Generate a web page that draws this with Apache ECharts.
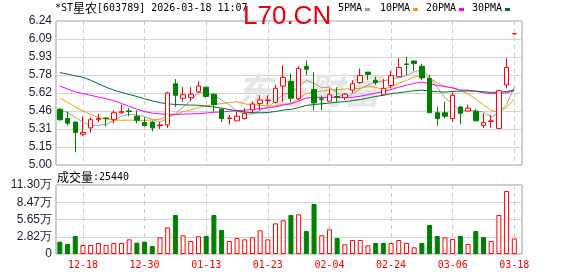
<!DOCTYPE html>
<html><head><meta charset="utf-8">
<script src="https://cdn.jsdelivr.net/npm/echarts@6/dist/echarts.min.js"></script>
<style>html,body{margin:0;padding:0;background:#fff}#c{width:578px;height:276px}</style>
</head><body><div id="c"></div>
<script>
// ---- data ----
const dateLabels = ['12-18','12-30','01-13','01-23','02-04','02-24','03-06','03-18'];
const priceTicks = ['5.00','5.15','5.31','5.46','5.62','5.78','5.93','6.09','6.24'];
const volTicks = ['0','2.82万','5.65万','8.47万','11.30万'];
// [open, close, low, high]
const ohlc = [
[5.48,5.39,5.38,5.49],[5.40,5.36,5.34,5.46],[5.37,5.28,5.11,5.37],[5.265,5.28,5.25,5.42],
[5.32,5.39,5.28,5.41],[5.39,5.40,5.37,5.44],[5.405,5.40,5.33,5.41],[5.39,5.45,5.36,5.47],
[5.45,5.46,5.44,5.52],[5.465,5.46,5.42,5.49],[5.42,5.385,5.36,5.47],[5.365,5.34,5.33,5.41],
[5.37,5.32,5.29,5.38],[5.34,5.345,5.31,5.37],[5.345,5.62,5.32,5.63],[5.70,5.60,5.50,5.74],
[5.575,5.605,5.545,5.67],[5.58,5.61,5.55,5.67],[5.63,5.68,5.62,5.72],[5.67,5.59,5.58,5.67],
[5.61,5.52,5.46,5.615],[5.48,5.40,5.37,5.49],[5.40,5.405,5.35,5.43],[5.38,5.42,5.38,5.46],
[5.40,5.445,5.39,5.49],[5.475,5.525,5.445,5.55],[5.53,5.56,5.47,5.60],[5.555,5.56,5.52,5.60],
[5.54,5.66,5.53,5.69],[5.68,5.755,5.545,5.86],[5.72,5.575,5.54,5.79],[5.57,5.83,5.56,5.85],
[5.85,5.825,5.775,5.90],[5.65,5.535,5.47,5.80],[5.57,5.565,5.47,5.60],[5.55,5.605,5.55,5.66],
[5.59,5.585,5.545,5.67],[5.58,5.61,5.56,5.62],[5.645,5.70,5.62,5.73],[5.71,5.77,5.70,5.83],
[5.80,5.78,5.73,5.80],[5.73,5.71,5.69,5.76],[5.605,5.66,5.60,5.74],[5.685,5.77,5.66,5.81],
[5.76,5.84,5.76,5.92],[5.87,5.865,5.775,5.93],[5.895,5.875,5.81,5.90],[5.85,5.75,5.73,5.87],
[5.745,5.45,5.45,5.775],[5.45,5.40,5.34,5.50],[5.45,5.42,5.40,5.545],[5.40,5.60,5.37,5.63],
[5.50,5.445,5.35,5.51],[5.465,5.49,5.465,5.52],[5.46,5.38,5.38,5.48],[5.34,5.365,5.32,5.445],
[5.375,5.38,5.32,5.43],[5.315,5.64,5.315,5.64],[5.69,5.84,5.66,5.92],[6.13,6.13,6.13,6.13]
];
const volumes = [
20150,16400,29500,14700,14700,18000,14700,18000,18000,24000,
18500,20150,13100,27300,43700,63900,30600,21300,29000,29500,
63900,39300,21300,26200,24000,27300,38800,24000,50200,55200,
63900,65000,37700,81900,30600,40400,26200,15900,22900,22900,
14200,18000,18000,18000,22900,18000,11000,18000,47500,29500,
27300,24600,29500,16400,37700,27800,21300,63900,103200,25440
];
const ma5 = [5.48,5.45,5.41,5.37,5.34,5.342,5.35,5.384,5.42,5.435,5.431,5.418,5.392,5.369,5.402,5.445,5.498,5.556,5.624,5.618,5.6,5.558,5.519,5.467,5.438,5.439,5.47,5.501,5.549,5.61,5.621,5.675,5.729,5.704,5.665,5.67,5.622,5.579,5.612,5.654,5.689,5.714,5.724,5.738,5.752,5.769,5.802,5.82,5.756,5.668,5.579,5.524,5.463,5.471,5.467,5.456,5.412,5.451,5.521,5.671];
const ma10 = [5.575,5.54,5.50,5.465,5.435,5.41,5.395,5.387,5.385,5.386,5.386,5.384,5.388,5.394,5.417,5.437,5.459,5.474,5.496,5.509,5.523,5.529,5.537,5.545,5.527,5.518,5.514,5.51,5.508,5.524,5.53,5.573,5.615,5.626,5.637,5.646,5.648,5.654,5.658,5.659,5.68,5.668,5.651,5.675,5.703,5.729,5.758,5.772,5.747,5.71,5.674,5.663,5.642,5.614,5.568,5.518,5.468,5.457,5.496,5.569];
const ma20 = [5.68,5.655,5.63,5.615,5.60,5.585,5.57,5.555,5.53,5.505,5.48,5.46,5.447,5.44,5.436,5.435,5.438,5.44,5.443,5.447,5.454,5.456,5.462,5.469,5.472,5.478,5.486,5.492,5.502,5.517,5.526,5.551,5.576,5.585,5.582,5.582,5.581,5.582,5.583,5.592,5.605,5.62,5.633,5.65,5.67,5.687,5.703,5.713,5.702,5.685,5.677,5.665,5.646,5.644,5.635,5.623,5.613,5.615,5.622,5.64];
const ma30 = [5.797,5.782,5.768,5.755,5.73,5.70,5.67,5.645,5.625,5.607,5.59,5.57,5.552,5.537,5.527,5.521,5.518,5.516,5.514,5.507,5.50,5.49,5.478,5.466,5.456,5.45,5.449,5.452,5.461,5.473,5.479,5.495,5.513,5.521,5.527,5.534,5.54,5.546,5.554,5.564,5.577,5.59,5.601,5.615,5.622,5.631,5.64,5.645,5.637,5.631,5.628,5.634,5.636,5.638,5.636,5.631,5.625,5.627,5.633,5.646];

// ---- styles ----
const RED = '#ff0000', GREEN = '#008000';
const MONO = "'DejaVu Sans Mono', monospace";
const SANS = "'Liberation Sans', Arial, sans-serif";
const CJK = "'Noto Sans CJK SC', sans-serif";
const L = 56, R = 522, W = R - L;
const xMin = -0.5, xMax = 60;
const slot = W / (xMax - xMin);
const auxLeft = L + (3 - xMin) * slot;
const auxRight = 578 - (L + (59 - xMin) * slot);

const chart = echarts.init(document.getElementById('c'), null, {renderer: 'canvas'});
const candleData = ohlc.map((d, i) => [i, d[0], d[1], d[2], d[3]]);
const volData = volumes.map((v, i) => {
  const up = i === 0 ? ohlc[i][1] >= ohlc[i][0] : ohlc[i][1] >= ohlc[i - 1][1];
  return {value: [i, v], itemStyle: up ? {color: '#fff', borderColor: RED, borderWidth: 1} : {color: GREEN, borderColor: GREEN, borderWidth: 1}};
});
const maLine = (name, arr, color) => ({
  name, type: 'line', xAxisIndex: 0, yAxisIndex: 0, data: arr.map((v, i) => [i, v]),
  symbol: 'none', smooth: false, lineStyle: {width: 1, color}, itemStyle: {color}, z: 3, silent: true
});
const hiddenAxis = (gi) => ({gridIndex: gi, type: 'value', min: xMin, max: xMax, show: false});

chart.setOption({
  animation: false,
  backgroundColor: '#fff',
  grid: [
    {left: L, right: 578 - R, top: 21, height: 144, show: true, borderColor: '#999', borderWidth: 1},
    {left: L, right: 578 - R, top: 185, height: 69, show: true, borderColor: '#999', borderWidth: 1},
    {left: auxLeft, right: auxRight, top: 21, height: 144, show: false},
    {left: auxLeft, right: auxRight, top: 185, height: 69, show: false}
  ],
  xAxis: [
    hiddenAxis(0), hiddenAxis(1),
    {gridIndex: 2, type: 'value', min: 3, max: 59, interval: 8,
     axisLine: {show: false}, axisTick: {show: false}, axisLabel: {show: false},
     splitLine: {show: true, lineStyle: {color: '#c8c8c8', type: [4, 4], width: 1}}},
    {gridIndex: 3, type: 'value', min: 3, max: 59, interval: 8,
     axisLine: {show: false}, axisTick: {show: false},
     axisLabel: {show: true, color: RED, fontFamily: MONO, fontSize: 10, margin: 6,
       formatter: v => dateLabels[Math.round((v - 3) / 8)]},
     splitLine: {show: true, lineStyle: {color: '#c8c8c8', type: [4, 4], width: 1}}}
  ],
  yAxis: [
    {gridIndex: 0, type: 'value', min: 5.00, max: 6.24, interval: 0.155,
     axisLine: {show: false}, axisTick: {show: false},
     axisLabel: {color: '#1a1a3a', fontFamily: SANS, fontSize: 12, margin: 4,
       formatter: v => priceTicks[Math.round((v - 5) / 0.155)]},
     splitLine: {show: true, lineStyle: {color: '#d4d4d4', width: 1}}},
    {gridIndex: 1, type: 'value', min: 0, max: 113000, interval: 28250,
     axisLine: {show: false}, axisTick: {show: false},
     axisLabel: {color: '#1a1a3a', fontFamily: SANS, fontSize: 12, margin: 4,
       formatter: v => volTicks[Math.round(v / 28250)]},
     splitLine: {show: true, lineStyle: {color: '#d4d4d4', width: 1}}},
    {gridIndex: 2, type: 'value', show: false},
    {gridIndex: 3, type: 'value', show: false}
  ],
  series: [
    {type: 'candlestick', xAxisIndex: 0, yAxisIndex: 0, data: candleData,
     encode: {x: 0, y: [1, 2, 3, 4]}, barWidth: 5, z: 4, silent: true,
     itemStyle: {color: '#fff', color0: GREEN, borderColor: RED, borderColor0: GREEN, borderWidth: 1}},
    maLine('5PMA', ma5, '#a0a0a0'),
    maLine('10PMA', ma10, '#f0a000'),
    maLine('20PMA', ma20, '#ff00ff'),
    maLine('30PMA', ma30, '#006f35'),
    {type: 'bar', xAxisIndex: 1, yAxisIndex: 1, data: volData, barWidth: 5, silent: true}
  ],
  graphic: [
    {type: 'text', x: 236, y: 90, z: 1, silent: true,
     style: {text: '东方财富', fontSize: 36, fontWeight: 'bold', fontStyle: 'italic', fontFamily: CJK,
       fill: '#e6e6e6', verticalAlign: 'middle'}},
    {type: 'text', x: 55, y: 8.5, z: 50, silent: true,
     style: {text: '{a|*ST}{c|星农}{a|[603789] 2026-03-18 11:07}', verticalAlign: 'middle',
       rich: {a: {fontFamily: MONO, fontSize: 10, fill: '#000'}, c: {fontFamily: CJK, fontSize: 12, fill: '#000'}}}},
    {type: 'text', x: 243, y: 17, z: 60, silent: true,
     style: {text: 'L70.CN', fontFamily: SANS, fontSize: 26, fill: '#e60012', verticalAlign: 'middle'}},
    {type: 'text', x: 338, y: 8.5, z: 50, silent: true, style: {text: '5PMA', fontFamily: MONO, fontSize: 10, fill: '#000', verticalAlign: 'middle'}},
    {type: 'rect', z: 50, silent: true, shape: {x: 365, y: 8, width: 5, height: 3}, style: {fill: '#a0a0a0'}},
    {type: 'text', x: 380, y: 8.5, z: 50, silent: true, style: {text: '10PMA', fontFamily: MONO, fontSize: 10, fill: '#000', verticalAlign: 'middle'}},
    {type: 'rect', z: 50, silent: true, shape: {x: 413, y: 8, width: 5, height: 3}, style: {fill: '#f0a000'}},
    {type: 'text', x: 426, y: 8.5, z: 50, silent: true, style: {text: '20PMA', fontFamily: MONO, fontSize: 10, fill: '#000', verticalAlign: 'middle'}},
    {type: 'rect', z: 50, silent: true, shape: {x: 459, y: 8, width: 5, height: 3}, style: {fill: '#ff00ff'}},
    {type: 'text', x: 472, y: 8.5, z: 50, silent: true, style: {text: '30PMA', fontFamily: MONO, fontSize: 10, fill: '#000', verticalAlign: 'middle'}},
    {type: 'rect', z: 50, silent: true, shape: {x: 505, y: 8, width: 5, height: 3}, style: {fill: '#006f35'}},
    {type: 'text', x: 57, y: 177, z: 50, silent: true,
     style: {text: '{c|成交量}{a|:25440}', verticalAlign: 'middle',
       rich: {a: {fontFamily: MONO, fontSize: 10, fill: '#000'}, c: {fontFamily: CJK, fontSize: 12, fill: '#000'}}}}
  ]
});
</script>
</body></html>
